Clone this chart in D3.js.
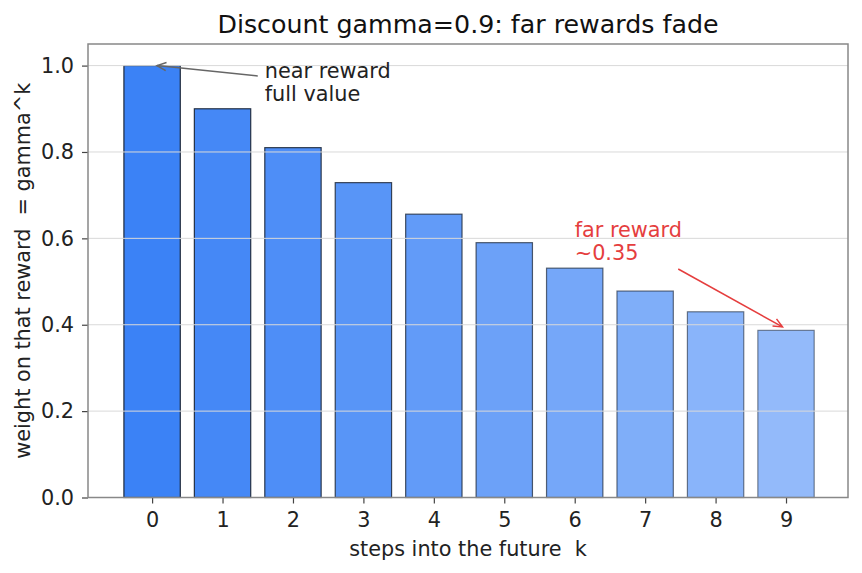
<!DOCTYPE html>
<html>
<head>
<meta charset="utf-8">
<script src="https://cdn.jsdelivr.net/npm/d3@7/dist/d3.min.js"></script>
<style>
  body { margin: 0; background: #fff; }
  svg { font-family: "DejaVu Sans", sans-serif; }
  svg text { white-space: pre; }
</style>
</head>
<body>
<div id="chart"></div>
<script>
// data
const steps = [0, 1, 2, 3, 4, 5, 6, 7, 8, 9]
const weights = [1.0, 0.9, 0.81, 0.729, 0.656, 0.590, 0.531, 0.478, 0.430, 0.387]
const yTicks = [0.0, 0.2, 0.4, 0.6, 0.8, 1.0]

// annotations in data coordinates
const notes = [
  { lines: ['near reward', 'full value'], tx: 1.6, ty: 0.917, from: [1.5, 0.976], to: [0.07, 1.0], color: '#666666', textColor: '#222222' },
  { lines: ['far reward', '~0.35'], tx: 6.0, ty: 0.551, from: [7.47, 0.529], to: [8.95, 0.395], color: '#e53e3e', textColor: '#e53e3e' }
]

const W = 862
const H = 573
const margin = { left: 88, right: 14, top: 44, bottom: 75.5 }
const plotW = W - margin.left - margin.right
const plotH = H - margin.top - margin.bottom
const fs = 20.8

const svg = d3.select('#chart').append('svg')
  .attr('width', W)
  .attr('height', H)

const g = svg.append('g')
  .attr('transform', 'translate(' + margin.left + ',' + margin.top + ')')

const x = d3.scaleLinear().domain([-0.91, 9.88]).range([0, plotW])
const y = d3.scaleLinear().domain([0, 1.05]).range([plotH, 0])

// bars, fading alpha with k
const barW = x(0.8) - x(0)
g.selectAll('rect.bar')
  .data(steps)
  .enter().append('rect')
  .attr('class', 'bar')
  .attr('x', d => x(d) - barW / 2)
  .attr('y', (d, i) => y(weights[i]))
  .attr('width', barW)
  .attr('height', (d, i) => y(0) - y(weights[i]))
  .style('fill', '#3b82f6')
  .style('fill-opacity', d => 1 - 0.05 * d)
  .style('stroke', '#1e293b')
  .style('stroke-opacity', d => 1 - 0.05 * d)
  .style('stroke-width', 1.2)

// grid on top of bars
g.selectAll('line.grid')
  .data(yTicks.slice(1))
  .enter().append('line')
  .attr('class', 'grid')
  .attr('x1', 0)
  .attr('x2', plotW)
  .attr('y1', d => y(d))
  .attr('y2', d => y(d))
  .style('stroke', '#d9d9d9')
  .style('stroke-width', 1)

// axes
const yAxis = g.append('g')
  .call(d3.axisLeft(y).tickValues(yTicks).tickFormat(d3.format('.1f')).tickSize(6).tickPadding(8))
const xAxis = g.append('g')
  .attr('transform', 'translate(0,' + plotH + ')')
  .call(d3.axisBottom(x).tickValues(steps).tickFormat(d3.format('d')).tickSize(6).tickPadding(9))

for (const ax of [yAxis, xAxis]) {
  ax.select('.domain').remove()
  ax.selectAll('.tick line').style('stroke', '#444').style('stroke-width', 1.2)
  ax.selectAll('.tick text').style('font-size', fs + 'px').style('fill', '#222').style('font-family', '"DejaVu Sans", sans-serif')
}

// frame
g.append('rect')
  .attr('width', plotW)
  .attr('height', plotH)
  .style('fill', 'none')
  .style('stroke', '#888')
  .style('stroke-width', 1.5)

// titles
svg.append('text')
  .attr('x', margin.left + plotW / 2)
  .attr('y', 33)
  .attr('text-anchor', 'middle')
  .style('font-size', '25.3px')
  .style('fill', '#111')
  .text('Discount gamma=0.9: far rewards fade')

svg.append('text')
  .attr('x', margin.left + plotW / 2)
  .attr('y', 556)
  .attr('text-anchor', 'middle')
  .style('font-size', fs + 'px')
  .style('fill', '#222')
  .text('steps into the future  k')

svg.append('text')
  .attr('transform', 'translate(30,' + (margin.top + plotH / 2) + ') rotate(-90)')
  .attr('text-anchor', 'middle')
  .style('font-size', fs + 'px')
  .style('fill', '#222')
  .text('weight on that reward  = gamma^k')

// annotations
function arrow (sel, p0, p1, color) {
  const x0 = x(p0[0]); const y0 = y(p0[1])
  const x1 = x(p1[0]); const y1 = y(p1[1])
  const a = Math.atan2(y1 - y0, x1 - x0)
  const len = 10
  const spread = 0.42
  sel.append('line')
    .attr('x1', x0).attr('y1', y0).attr('x2', x1).attr('y2', y1)
    .style('stroke', color).style('stroke-width', 1.5)
  sel.append('path')
    .attr('d', 'M' + (x1 - len * Math.cos(a - spread)) + ',' + (y1 - len * Math.sin(a - spread)) +
      'L' + x1 + ',' + y1 +
      'L' + (x1 - len * Math.cos(a + spread)) + ',' + (y1 - len * Math.sin(a + spread)))
    .style('fill', 'none').style('stroke', color).style('stroke-width', 1.5)
}

notes.forEach(n => {
  const ng = g.append('g')
  arrow(ng, n.from, n.to, n.color)
  n.lines.forEach((t, i) => {
    ng.append('text')
      .attr('x', x(n.tx))
      .attr('y', y(n.ty) - (n.lines.length - 1 - i) * 23)
      .style('font-size', fs + 'px')
      .style('fill', n.textColor)
      .text(t)
  })
})
</script>
</body>
</html>
